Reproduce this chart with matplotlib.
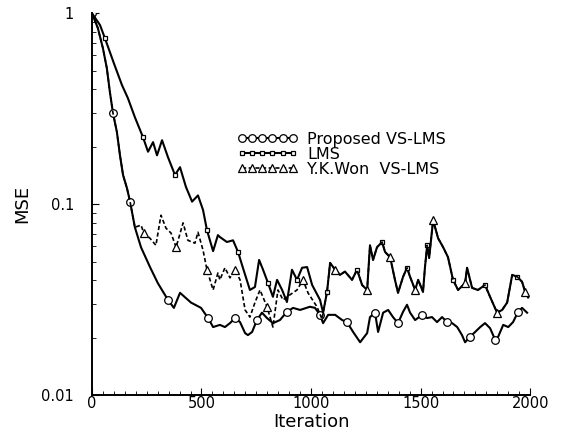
import matplotlib
matplotlib.use("Agg")
import matplotlib.pyplot as plt
from matplotlib.ticker import FixedLocator, NullFormatter, MultipleLocator

# ---------------------------------------------------------------------------
# Data (iteration, MSE)
# ---------------------------------------------------------------------------

prop_it = [0, 27, 50, 68, 82, 96, 114, 128, 142, 160, 174, 196, 224, 265, 301,
           347, 374, 402, 452, 498, 530, 553, 584, 607, 630, 653, 676, 699,
           712, 731, 753, 776, 799, 826, 858, 890, 918, 950, 995, 1018, 1041,
           1055, 1078, 1110, 1142, 1164, 1192, 1224, 1256, 1269, 1292, 1306,
           1329, 1352, 1374, 1397, 1420, 1438, 1452, 1475, 1507, 1530, 1552,
           1575, 1598, 1621, 1644, 1667, 1689, 1703, 1726, 1749, 1772, 1794,
           1817, 1840, 1854, 1877, 1900, 1922, 1945, 1963, 1986]
prop_mse = [1.0, 0.835, 0.656, 0.515, 0.386, 0.300, 0.238, 0.180, 0.142, 0.121,
            0.103, 0.0756, 0.0594, 0.0468, 0.0385, 0.0315, 0.0286, 0.0343,
            0.0305, 0.0286, 0.0253, 0.0227, 0.0233, 0.0227, 0.0238, 0.0253,
            0.0241, 0.0211, 0.0206, 0.0214, 0.0247, 0.0270, 0.0253, 0.0238,
            0.0247, 0.0273, 0.0286, 0.0279, 0.0290, 0.0286, 0.0263, 0.0238,
            0.0263, 0.0263, 0.0247, 0.0241, 0.0214, 0.0189, 0.0211, 0.0256,
            0.0270, 0.0214, 0.0270, 0.0279, 0.0256, 0.0238, 0.0273, 0.0297,
            0.0270, 0.0247, 0.0263, 0.0253, 0.0256, 0.0241, 0.0256, 0.0241,
            0.0238, 0.0227, 0.0206, 0.0189, 0.0202, 0.0214, 0.0227, 0.0238,
            0.0224, 0.0195, 0.0202, 0.0233, 0.0227, 0.0241, 0.0273, 0.0286,
            0.0270]

lms_it = [0, 37, 59, 82, 100, 137, 164, 196, 233, 256, 279, 297, 320, 347, 379,
          402, 429, 457, 484, 507, 525, 553, 575, 584, 616, 644, 667, 689, 721,
          744, 763, 781, 804, 826, 845, 868, 890, 913, 936, 959, 982, 1005,
          1041, 1055, 1073]
lms_mse = [1.0, 0.865, 0.740, 0.625, 0.547, 0.420, 0.359, 0.285, 0.224, 0.188,
           0.211, 0.180, 0.216, 0.176, 0.142, 0.156, 0.123, 0.103, 0.111,
           0.0932, 0.0730, 0.0567, 0.0688, 0.0672, 0.0633, 0.0646, 0.0561,
           0.0464, 0.0355, 0.0368, 0.0510, 0.0453, 0.0385, 0.0327, 0.0401,
           0.0355, 0.0307, 0.0453, 0.0401, 0.0464, 0.0468, 0.0377, 0.0315,
           0.0270, 0.0347]

# after ~1090 iterations LMS and Y.K.Won lie on top of each other
tail_it = [1087, 1110, 1132, 1155, 1187, 1210, 1233, 1256, 1269, 1283, 1301,
           1324, 1338, 1361, 1383, 1397, 1420, 1438, 1452, 1475, 1489, 1511,
           1520, 1530, 1539, 1557, 1580, 1603, 1625, 1648, 1671, 1703, 1712,
           1735, 1762, 1794, 1817, 1849, 1872, 1895, 1918, 1941, 1963, 1977,
           1991]
tail_mse = [0.0492, 0.0453, 0.0426, 0.0443, 0.0401, 0.0453, 0.0377, 0.0355,
            0.0608, 0.0510, 0.0594, 0.0633, 0.0561, 0.0527, 0.0401, 0.0343,
            0.0416, 0.0464, 0.0416, 0.0355, 0.0401, 0.0347, 0.0468, 0.0608,
            0.0522, 0.0824, 0.0662, 0.0594, 0.0527, 0.0401, 0.0355, 0.0385,
            0.0464, 0.0364, 0.0355, 0.0377, 0.0327, 0.0270, 0.0279, 0.0305,
            0.0426, 0.0416, 0.0392, 0.0347, 0.0324]

ykw_it = [0, 27, 50, 68, 82, 96, 114, 128, 142, 160, 174, 196, 224, 237, 265,
          292, 315, 338, 361, 384, 416, 438, 470, 484, 507, 525, 553, 575, 584,
          607, 630, 653, 676, 699, 721, 744, 767, 799, 826, 849, 872, 904, 936,
          963, 986, 1027, 1050, 1073]
ykw_mse = [1.0, 0.835, 0.656, 0.515, 0.386, 0.300, 0.238, 0.180, 0.142, 0.121,
           0.103, 0.0756, 0.0776, 0.0705, 0.0662, 0.0608, 0.0874, 0.0748,
           0.0705, 0.0594, 0.0797, 0.0646, 0.0624, 0.0712, 0.0574, 0.0453,
           0.0355, 0.0436, 0.0401, 0.0464, 0.0411, 0.0453, 0.0401, 0.0279,
           0.0256, 0.0305, 0.0355, 0.0290, 0.0227, 0.0355, 0.0315, 0.0335,
           0.0355, 0.0401, 0.0343, 0.0290, 0.0250, 0.0347]

xticks = [0, 500, 1000, 1500, 2000]
yticks = [0.01, 0.1, 1]
ytick_labels = ["0.01", "0.1", "1"]

# ---------------------------------------------------------------------------
# Plot
# ---------------------------------------------------------------------------

plt.rcParams.update({"font.family": "DejaVu Sans"})

fig = plt.figure(figsize=(5.64, 4.37), dpi=100)
ax = fig.add_axes([0.163, 0.096, 0.777, 0.874])

mk = dict(mfc="white", mec="black", mew=0.9)
ax.plot(prop_it, prop_mse, color="black", lw=1.5, marker="o", ms=5.5,
        markevery=(0, 5), label="Proposed VS-LMS", **mk)
ax.plot(lms_it + tail_it, lms_mse + tail_mse, color="black", lw=1.5,
        marker="s", ms=3.5, markevery=(2, 6), label="LMS", **mk)
ax.plot(ykw_it + tail_it, ykw_mse + tail_mse, color="black", lw=1.2,
        ls=(0, (2.5, 1.5)), marker="^", ms=5.5, markevery=(13, 6),
        label="Y.K.Won  VS-LMS", **mk)

ax.set_yscale("log")
ax.set_xlim(0, 2000)
ax.set_ylim(0.01, 1)
ax.xaxis.set_major_locator(FixedLocator(xticks))
ax.xaxis.set_minor_locator(MultipleLocator(50))
ax.set_yticks(yticks)
ax.set_yticklabels(ytick_labels)
ax.yaxis.set_minor_formatter(NullFormatter())
ax.tick_params(which="both", direction="in", labelsize=10.5)
ax.tick_params(axis="y", pad=13)
ax.tick_params(axis="x", pad=1)
ax.tick_params(which="major", length=5)
ax.tick_params(which="minor", length=3)
for sp in ["top", "right"]:
    ax.spines[sp].set_visible(False)
ax.spines["left"].set_linewidth(1.4)
ax.spines["bottom"].set_linewidth(1.4)

ax.set_xlabel("Iteration", fontsize=13, labelpad=1)
ax.set_ylabel("MSE", fontsize=13, labelpad=7)

ax.legend(loc="upper left", bbox_to_anchor=(0.331, 0.69), frameon=False,
          fontsize=11.5, numpoints=6, handlelength=3.8, handletextpad=0.6,
          labelspacing=0.0, borderpad=0, borderaxespad=0)

fig.savefig("out.png", dpi=100)
